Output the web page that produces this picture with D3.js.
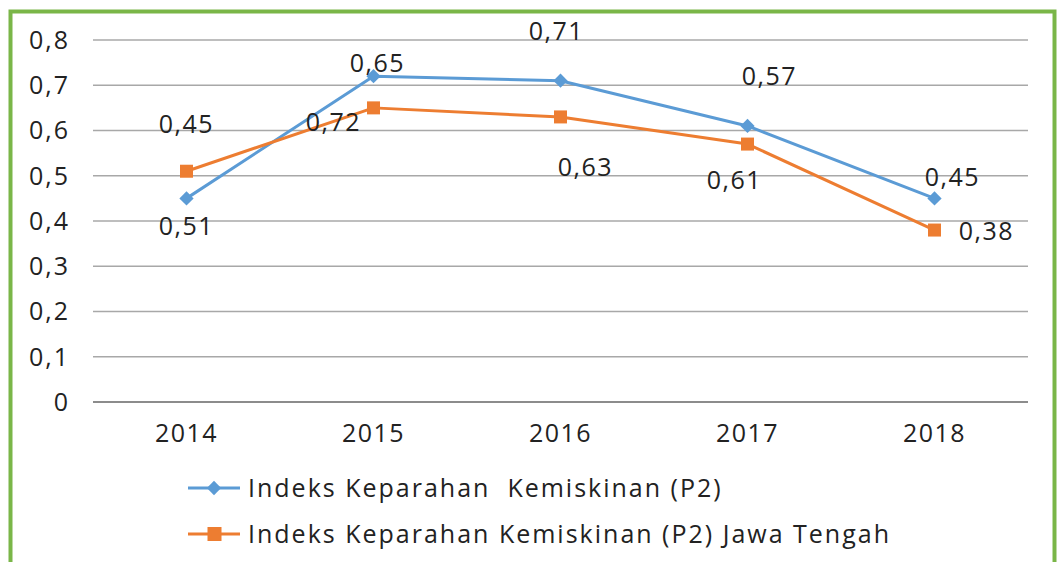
<!DOCTYPE html>
<html>
<head>
<meta charset="utf-8">
<script src="https://cdn.jsdelivr.net/npm/d3@7"></script>
<style>
  body { margin: 0; background: #fff; }
  text { font-family: "Open Sans", sans-serif; fill: #222; white-space: pre; }
</style>
</head>
<body>
<div id="chart"></div>
<script>
// data
const years = ["2014", "2015", "2016", "2017", "2018"];
const p2Values = [0.45, 0.72, 0.71, 0.61, 0.45];
const jatengValues = [0.51, 0.65, 0.63, 0.57, 0.38];
// data labels as printed on the chart
const p2Labels = ["0,51", "0,65", "0,71", "0,57", "0,45"];
const jatengLabels = ["0,45", "0,72", "0,63", "0,61", "0,38"];
const yTicks = [0, 0.1, 0.2, 0.3, 0.4, 0.5, 0.6, 0.7, 0.8];
const seriesNames = ["Indeks Keparahan  Kemiskinan (P2)", "Indeks Keparahan Kemiskinan (P2) Jawa Tengah"];

const width = 1059, height = 562;
const fs = "25px";
const svg = d3.select("#chart").append("svg")
  .attr("width", width).attr("height", height);

// green frame
svg.append("rect")
  .attr("x", 10.5).attr("y", 11.5)
  .attr("width", 1044).attr("height", 580)
  .attr("fill", "none").attr("stroke", "#7ab648").attr("stroke-width", 4);

const x = d3.scaleBand().domain(years).range([93, 1028]);
const y = d3.scaleLinear().domain([0, 0.8]).range([402, 40]);

// gridlines
svg.selectAll(".grid")
  .data(yTicks)
  .join("line")
  .attr("x1", 93).attr("x2", 1028)
  .attr("y1", d => y(d)).attr("y2", d => y(d))
  .attr("stroke", d => d == 0 ? "#8c8c8c" : "#a8a8a8")
  .attr("stroke-width", d => d == 0 ? 2 : 1.3);

// y labels
svg.selectAll(".ylab")
  .data(yTicks)
  .join("text")
  .attr("x", 70).attr("y", d => y(d))
  .attr("dy", "0.35em")
  .attr("text-anchor", "end")
  .style("font-size", fs)
  .style("letter-spacing", "2px")
  .text(d => d == 0 ? "0" : d3.format(".1f")(d).replace(".", ","));

// x labels
svg.selectAll(".xlab")
  .data(years)
  .join("text")
  .attr("x", d => x(d) + x.bandwidth() / 2)
  .attr("y", 433).attr("dy", "0.35em")
  .attr("text-anchor", "middle")
  .style("font-size", fs)
  .style("letter-spacing", "1.5px")
  .text(d => d);

const cx = d => x(d) + x.bandwidth() / 2;
const line = d3.line().x((d, i) => cx(years[i])).y(d => y(d));

const blue = "#5b9bd5", orange = "#ed7d31";
const diamond = d3.symbol().type(d3.symbolDiamond2).size(130);

// blue series
svg.append("path").datum(p2Values)
  .attr("d", line).attr("fill", "none")
  .attr("stroke", blue).attr("stroke-width", 3).attr("stroke-linejoin", "round");
svg.selectAll(".bm").data(p2Values).join("path")
  .attr("d", diamond)
  .attr("transform", (d, i) => `translate(${cx(years[i])},${y(d)})`)
  .attr("fill", blue);

// orange series
svg.append("path").datum(jatengValues)
  .attr("d", line).attr("fill", "none")
  .attr("stroke", orange).attr("stroke-width", 3).attr("stroke-linejoin", "round");
svg.selectAll(".om").data(jatengValues).join("rect")
  .attr("x", (d, i) => cx(years[i]) - 6.5)
  .attr("y", d => y(d) - 6.5)
  .attr("width", 13).attr("height", 13)
  .attr("fill", orange);

// label offsets (moved by hand in the original)
const p2Off = [[0, 28], [4, -13], [-4, -49], [22, -50], [18, -21]];
const jatengOff = [[0, -47], [-40, 14], [25, 50], [-13, 36], [52, 1]];

svg.selectAll(".bl").data(p2Values).join("text")
  .attr("x", (d, i) => cx(years[i]) + p2Off[i][0])
  .attr("y", (d, i) => y(d) + p2Off[i][1])
  .attr("dy", "0.35em").attr("text-anchor", "middle")
  .style("font-size", fs)
  .style("letter-spacing", "1.5px")
  .text((d, i) => p2Labels[i]);

svg.selectAll(".ol").data(jatengValues).join("text")
  .attr("x", (d, i) => cx(years[i]) + jatengOff[i][0])
  .attr("y", (d, i) => y(d) + jatengOff[i][1])
  .attr("dy", "0.35em").attr("text-anchor", "middle")
  .style("font-size", fs)
  .style("letter-spacing", "1.5px")
  .text((d, i) => jatengLabels[i]);

// legend
const legend = svg.selectAll(".leg").data(seriesNames).join("g")
  .attr("transform", (d, i) => `translate(188,${488 + i * 46})`);
legend.append("line")
  .attr("x1", 0).attr("x2", 52)
  .attr("stroke", (d, i) => i == 0 ? blue : orange).attr("stroke-width", 3);
legend.filter((d, i) => i == 0).append("path")
  .attr("d", diamond).attr("transform", "translate(26,0)").attr("fill", blue);
legend.filter((d, i) => i == 1).append("rect")
  .attr("x", 19.5).attr("y", -7).attr("width", 14).attr("height", 14).attr("fill", orange);
legend.append("text")
  .attr("x", 60).attr("dy", "0.35em")
  .style("font-size", fs)
  .style("letter-spacing", "2px")
  .text(d => d);
</script>
</body>
</html>
